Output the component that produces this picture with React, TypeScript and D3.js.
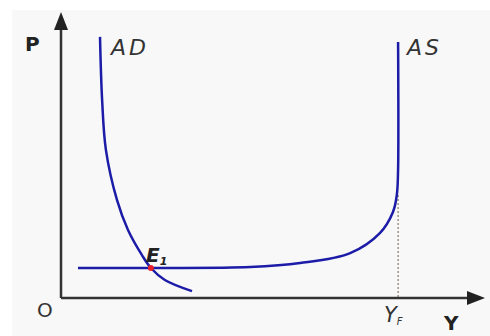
import React from "react";
import * as d3 from "d3";

// curve points (x = output Y, y = price level P, 0..100)
const adCurve: [number, number][] = [
  [9.2, 91.3], [9.7, 69.2], [10.6, 51.7], [13.2, 34.3], [15.8, 23.8],
  [19.1, 15.0], [21.2, 10.5], [24.5, 6.3], [30.9, 2.4],
];
const asCurve: [number, number][] = [
  [4.0, 10.5], [21.0, 10.5], [44.6, 10.8], [56.4, 12.2], [68.2, 15.7],
  [75.2, 22.7], [78.3, 30.1], [79.2, 36.0], [79.5, 44.8], [79.5, 89.5],
];
const equilibrium: [number, number] = [21.2, 10.5];
const fullOutput = 79.5;
const fullOutputTop = 36;

const W = 490;
const H = 336;
const BLUE = "#1c1ca8";
const LABEL_FONT = "'DejaVu Sans', Verdana, sans-serif";

const App = () => {
  const x = d3.scaleLinear().domain([0, 100]).range([61, 485]);
  const y = d3.scaleLinear().domain([0, 100]).range([298, 12]);

  const line = d3
    .line<[number, number]>()
    .x((d) => x(d[0]))
    .y((d) => y(d[1]))
    .curve(d3.curveCatmullRom.alpha(0.5));

  const x0 = x(0);
  const y0 = y(0);

  return (
    <svg
      width={W}
      height={H}
      style={{ position: "absolute", left: 0, top: 0 }}
      fontFamily={LABEL_FONT}
    >
      <rect width={W} height={H} fill="#ffffff" />
      <rect x={12} y={10} width={W - 12} height={H - 10} fill="#f8f8f8" />

      {/* axes */}
      <line x1={x0} y1={y0} x2={x0} y2={24} stroke="#333" strokeWidth={2.5} />
      <path d={`M${x0},${12} L${x0 - 7},${30} L${x0 + 7},${30} Z`} fill="#222" />
      <line x1={x0} y1={y0} x2={473} y2={y0} stroke="#333" strokeWidth={2.5} />
      <path d={`M485,${y0} L467,${y0 - 7} L467,${y0 + 7} Z`} fill="#222" />

      {/* dashed full-output line */}
      <line
        x1={x(fullOutput)}
        x2={x(fullOutput)}
        y1={y(fullOutputTop)}
        y2={y0}
        stroke="#6b6040"
        strokeWidth={1}
        strokeDasharray="2,2"
      />

      <path d={line(adCurve) ?? ""} fill="none" stroke={BLUE} strokeWidth={2.5} />
      <path d={line(asCurve) ?? ""} fill="none" stroke={BLUE} strokeWidth={2.5} />

      <circle cx={x(equilibrium[0])} cy={y(equilibrium[1])} r={3} fill="#e8202a" />

      {/* labels */}
      <text x={25} y={51} fontSize={20} fontWeight="bold" fill="#222">P</text>
      <text x={111} y={55} fontSize={22} fontStyle="italic" letterSpacing={3} fill="#333">AD</text>
      <text x={407} y={55} fontSize={22} fontStyle="italic" letterSpacing={3} fill="#333">AS</text>
      <text x={146} y={262} fontSize={20} fontWeight="bold" fontStyle="italic" fill="#222">
        E<tspan fontSize={11} dy={3}>1</tspan>
      </text>
      <text x={37} y={317} fontSize={20} fill="#333">O</text>
      <text x={384} y={322} fontSize={21} fontStyle="italic" fill="#333">
        Y<tspan fontSize={10} dy={3}>F</tspan>
      </text>
      <text x={444} y={330} fontSize={20} fontWeight="bold" fill="#222">Y</text>
    </svg>
  );
};

export default App;
